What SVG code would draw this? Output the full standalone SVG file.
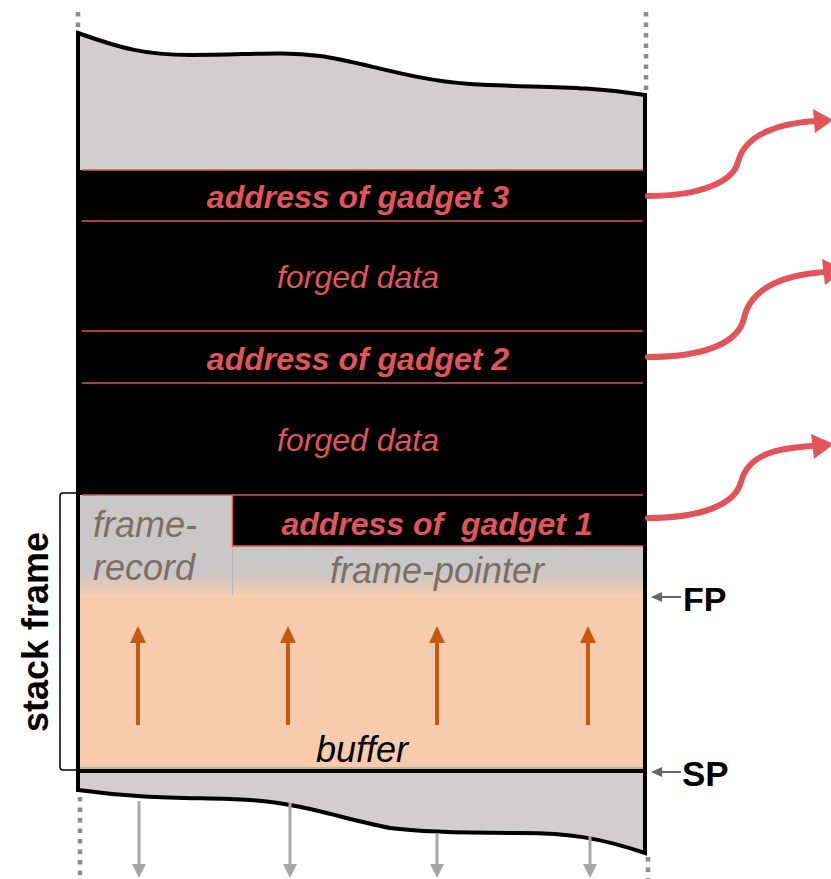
<svg xmlns="http://www.w3.org/2000/svg" width="831" height="879" viewBox="0 0 831 879">
  <style>
    .lbl { font-family: "Liberation Sans", Arial, sans-serif; }
    .addr { font-size: 32px; font-weight: bold; font-style: italic; fill: #E1545A; text-anchor: middle; }
    .forged { font-size: 32px; font-style: italic; fill: #E1545A; text-anchor: middle; }
    .fr { font-size: 36px; font-style: italic; fill: #7E6E63; }
    .redline { stroke: #E1545A; stroke-width: 1.5; fill: none; }
    .dots { stroke: #8C8C8C; stroke-width: 4.5; stroke-dasharray: 4.5 6; fill: none; }
    .rarrow { stroke: #E1545A; stroke-width: 6; fill: none; stroke-linecap: round; }
    .rhead { fill: #E1545A; }
    .oarrow { stroke: #C55A11; stroke-width: 4; }
    .ohead { fill: #C55A11; }
    .garrow { stroke: #A6A6A6; stroke-width: 3; }
    .ghead { fill: #A6A6A6; }
    .parrow { stroke: #666666; stroke-width: 2; }
    .phead { fill: #666666; }
  </style>
  <defs>
    <linearGradient id="grayfade" gradientUnits="userSpaceOnUse" x1="0" y1="495" x2="0" y2="600">
      <stop offset="0" stop-color="#C9C7C8"/>
      <stop offset="0.74" stop-color="#C9C7C8"/>
      <stop offset="0.97" stop-color="#F8CBAD"/>
      <stop offset="1" stop-color="#F8CBAD"/>
    </linearGradient>
  </defs>

  <!-- dotted guide lines -->
  <g id="guides">
    <line class="dots" x1="78" y1="12" x2="78" y2="32"/>
    <line class="dots" x1="80" y1="797" x2="80" y2="879"/>
    <line class="dots" x1="646" y1="12" x2="646" y2="93"/>
    <line class="dots" x1="648" y1="857" x2="648" y2="879"/>
  </g>

  <!-- stack body -->
  <g id="stack">
    <path d="M78,33 C120,48 145,55 190,55 C250,55 280,51 320,56 C360,61 410,80 470,84 C540,88 580,85 645,95 L645,853 C600,838 570,833 520,833 C460,833 420,832 390,828 C340,818 300,803 250,800 C200,797 150,800 78,790 Z" fill="#D0CECF"/>
  </g>

  <g id="gadget3-row">
    <rect x="80" y="170" width="565" height="51" fill="#000"/>
    <text class="lbl addr" x="358" y="208">address of gadget 3</text>
  </g>
  <g id="forged-data-1">
    <rect x="80" y="221" width="565" height="110" fill="#000"/>
    <text class="lbl forged" x="358" y="288">forged data</text>
  </g>
  <g id="gadget2-row">
    <rect x="80" y="331" width="565" height="52" fill="#000"/>
    <text class="lbl addr" x="358" y="370">address of gadget 2</text>
  </g>
  <g id="forged-data-2">
    <rect x="80" y="383" width="565" height="112" fill="#000"/>
    <text class="lbl forged" x="358" y="451">forged data</text>
  </g>

  <g id="buffer">
    <rect x="80" y="590" width="565" height="181" fill="#F8CBAD"/>
    <text class="lbl" x="362" y="762" font-size="36" font-style="italic" fill="#000" text-anchor="middle">buffer</text>
  </g>

  <g id="frame-record">
    <rect x="80" y="495" width="152" height="100" fill="url(#grayfade)"/>
    <text class="lbl fr" x="93" y="537">frame-</text>
    <text class="lbl fr" x="93" y="580">record</text>
  </g>
  <g id="frame-pointer">
    <rect x="232" y="546" width="413" height="49" fill="url(#grayfade)"/>
    <line x1="232.5" y1="546" x2="232.5" y2="595" stroke="#BDB5B0" stroke-width="1"/>
    <text class="lbl fr" x="437" y="583" text-anchor="middle">frame-pointer</text>
  </g>
  <g id="gadget1-row">
    <rect x="232" y="495" width="413" height="51" fill="#000"/>
    <path class="redline" d="M232.5,495 L232.5,546 L643,546"/>
    <text class="lbl addr" x="437" y="535" xml:space="preserve">address of  gadget 1</text>
  </g>

  <g id="row-dividers">
    <line class="redline" x1="82" y1="170" x2="643" y2="170"/>
    <line class="redline" x1="82" y1="221" x2="643" y2="221"/>
    <line class="redline" x1="82" y1="331" x2="643" y2="331"/>
    <line class="redline" x1="82" y1="383" x2="643" y2="383"/>
    <line class="redline" x1="82" y1="495" x2="643" y2="495"/>
    <line x1="80" y1="768" x2="645" y2="768" stroke="#8E8E8E" stroke-width="1"/>
    <line x1="80" y1="771" x2="645" y2="771" stroke="#000" stroke-width="4"/>
  </g>

  <g id="stack-outline">
    <path d="M78,33 C120,48 145,55 190,55 C250,55 280,51 320,56 C360,61 410,80 470,84 C540,88 580,85 645,95 L645,853 C600,838 570,833 520,833 C460,833 420,832 390,828 C340,818 300,803 250,800 C200,797 150,800 78,790 Z" fill="none" stroke="#000" stroke-width="4" stroke-linejoin="miter"/>
  </g>

  <g id="stack-frame-label">
    <path d="M80,493 L63,493 Q60,493 60,496 L60,767 Q60,770 63,770 L80,770" fill="none" stroke="#000" stroke-width="1.5"/>
    <text class="lbl" x="48" y="632" transform="rotate(-90 48 632)" font-size="36" font-weight="bold" fill="#000" text-anchor="middle">stack frame</text>
  </g>

  <g id="fp-label">
    <text class="lbl" x="683" y="611" font-size="34" font-weight="bold" fill="#000">FP</text>
  </g>
  <g id="sp-label">
    <text class="lbl" x="682" y="786" font-size="35" font-weight="bold" fill="#000">SP</text>
  </g>

  <g id="connectors">
    <!-- gadget arrows -->
    <path class="rarrow" d="M648,196 C700,196 733,182 738,162 C745,135 775,124 815,121"/>
    <polygon class="rhead" points="813,109 833,120 815,133"/>
    <path class="rarrow" d="M648,357 C700,357 738,345 744,318 C750,290 780,275 825,272"/>
    <polygon class="rhead" points="822,259 845,270 825,285"/>
    <path class="rarrow" d="M648,518 C700,518 735,505 741,482 C748,455 775,448 813,446"/>
    <polygon class="rhead" points="811,434 834,444 814,459"/>

    <!-- FP / SP pointers -->
    <line class="parrow" x1="681" y1="597" x2="660" y2="597"/>
    <polygon class="phead" points="651,597 662,592 662,602"/>
    <line class="parrow" x1="681" y1="772" x2="660" y2="772"/>
    <polygon class="phead" points="651,772 662,767 662,777"/>

    <!-- buffer growth arrows -->
    <line class="oarrow" x1="138" y1="725" x2="138" y2="640"/>
    <polygon class="ohead" points="130,643 138,626 146,643"/>
    <line class="oarrow" x1="288" y1="725" x2="288" y2="640"/>
    <polygon class="ohead" points="280,643 288,626 296,643"/>
    <line class="oarrow" x1="437" y1="725" x2="437" y2="640"/>
    <polygon class="ohead" points="429,643 437,626 445,643"/>
    <line class="oarrow" x1="588" y1="725" x2="588" y2="640"/>
    <polygon class="ohead" points="580,643 588,626 596,643"/>

    <!-- stack growth arrows -->
    <line class="garrow" x1="139" y1="801" x2="139" y2="866"/>
    <polygon class="ghead" points="132,864 139,878 146,864"/>
    <line class="garrow" x1="290" y1="803" x2="290" y2="866"/>
    <polygon class="ghead" points="283,864 290,878 297,864"/>
    <line class="garrow" x1="437" y1="833" x2="437" y2="866"/>
    <polygon class="ghead" points="430,864 437,878 444,864"/>
    <line class="garrow" x1="590" y1="836" x2="590" y2="866"/>
    <polygon class="ghead" points="583,864 590,878 597,864"/>
  </g>
</svg>
